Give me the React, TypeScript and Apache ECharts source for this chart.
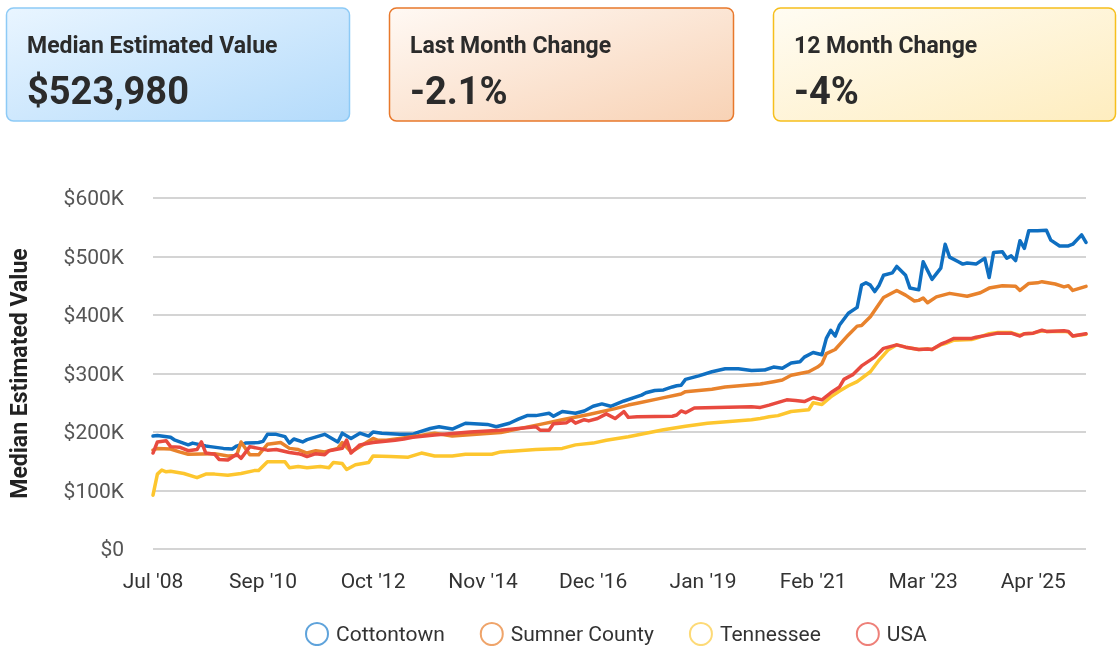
import React, { useEffect, useRef } from 'react';
import * as echarts from 'echarts';

const xTickLabels = ["Jul '08", "Sep '10", "Oct '12", "Nov '14", "Dec '16", "Jan '19", "Feb '21", "Mar '23", "Apr '25"];
const pointsPerTick = 25;
const lastIndex = 212;
const yTicks = [0, 100000, 200000, 300000, 400000, 500000, 600000];

const seriesNames = ['Cottontown', 'Sumner County', 'Tennessee', 'USA'];
const seriesColors = ['#0F6FC1', '#E8822C', '#FDC62E', '#E84A3F'];
const legendRingColors = ['#5FA3DB', '#EFA46A', '#FDDA77', '#EE8079'];

// [month index, value in $K]
const cottontown = [
  [0, 193], [1, 194], [4, 191], [5, 186], [8, 178], [9, 181], [12, 176], [13, 175], [16, 172], [18, 171],
  [19, 176], [21, 181], [24, 182], [25, 184], [26, 196], [28, 196], [30, 192], [31, 181], [32, 188], [34, 183],
  [35, 187], [39, 196], [42, 183], [43, 198], [45, 189], [47, 198], [49, 193], [50, 200], [52, 198], [56, 196],
  [59, 196], [60, 199], [63, 206], [65, 209], [68, 205], [71, 215], [76, 213], [78, 209], [81, 215], [83, 222],
  [85, 228], [87, 228], [90, 232], [91, 227], [92, 231], [93, 235], [96, 232], [98, 236], [100, 244], [102, 248],
  [104, 244], [107, 253], [111, 263], [112, 267], [114, 271], [116, 272], [118, 277], [119, 279], [120, 280], [121, 290],
  [124, 296], [127, 303], [130, 308], [133, 308], [136, 305], [139, 306], [141, 311], [143, 309], [145, 318], [147, 320],
  [148, 328], [150, 336], [152, 332], [153, 360], [154, 374], [155, 364], [156, 383], [158, 403], [160, 413], [161, 451],
  [162, 455], [163, 451], [164, 440], [165, 451], [166, 468], [168, 472], [169, 483], [171, 468], [172, 446], [174, 443],
  [175, 491], [177, 461], [179, 480], [180, 521], [181, 499], [183, 491], [184, 487], [185, 489], [187, 487], [189, 497],
  [190, 464], [191, 507], [193, 508], [194, 497], [195, 501], [196, 493], [197, 527], [198, 514], [199, 544], [201, 544],
  [203, 545], [204, 528], [206, 518], [208, 518], [209, 521], [211, 537], [212, 524],
];

const sumnerCounty = [
  [0, 169], [1, 172], [4, 171], [6, 166], [8, 162], [14, 163], [17, 159], [19, 160], [20, 183], [22, 161],
  [24, 161], [26, 179], [29, 182], [31, 172], [33, 170], [35, 164], [37, 168], [39, 166], [42, 172], [43, 182],
  [45, 166], [47, 175], [50, 189], [51, 186], [53, 186], [56, 189], [60, 193], [64, 198], [68, 193], [79, 199],
  [88, 213], [93, 221], [99, 230], [105, 240], [108, 246], [110, 249], [115, 257], [120, 265], [121, 269], [127, 273],
  [130, 277], [138, 282], [141, 286], [143, 289], [145, 297], [149, 303], [151, 311], [152, 317], [153, 334], [155, 341],
  [158, 366], [160, 381], [161, 382], [163, 397], [166, 430], [169, 442], [171, 434], [173, 424], [174, 425], [175, 429],
  [176, 421], [178, 431], [181, 437], [185, 432], [188, 438], [190, 446], [193, 450], [196, 449], [197, 442], [199, 454],
  [201, 455], [202, 457], [205, 453], [207, 448], [208, 450], [209, 442], [212, 449],
];

const tennessee = [
  [0, 92], [1, 128], [2, 135], [3, 132], [4, 133], [7, 129], [10, 122], [12, 128], [14, 128], [17, 126],
  [20, 129], [23, 134], [24, 134], [26, 149], [30, 149], [31, 139], [33, 141], [35, 139], [38, 141], [40, 139],
  [41, 148], [43, 146], [44, 136], [46, 144], [49, 148], [50, 159], [54, 158], [58, 157], [61, 164], [64, 159],
  [68, 159], [71, 162], [77, 162], [79, 166], [87, 170], [93, 172], [96, 178], [100, 181], [103, 186], [108, 192],
  [112, 198], [116, 204], [121, 210], [126, 215], [131, 218], [136, 221], [138, 223], [140, 226], [142, 228], [145, 235],
  [149, 238], [150, 250], [152, 247], [154, 260], [156, 270], [158, 279], [160, 286], [163, 303], [165, 323], [167, 340],
  [169, 349], [171, 345], [174, 341], [176, 342], [177, 341], [179, 349], [180, 351], [182, 357], [186, 358], [187, 360],
  [190, 368], [192, 370], [195, 370], [197, 365], [198, 368], [200, 369], [202, 373], [203, 372], [207, 372], [208, 371],
  [209, 364], [212, 367],
];

const usa = [
  [0, 164], [1, 183], [3, 185], [4, 175], [6, 174], [8, 168], [10, 170], [11, 183], [12, 164], [14, 162],
  [15, 153], [17, 152], [19, 162], [20, 155], [22, 175], [24, 172], [26, 169], [28, 170], [31, 165], [33, 163],
  [34, 161], [35, 158], [37, 163], [39, 161], [40, 168], [43, 172], [44, 186], [45, 164], [47, 178], [50, 182],
  [55, 186], [57, 188], [59, 191], [64, 195], [72, 200], [79, 203], [87, 209], [88, 203], [90, 203], [91, 214],
  [94, 216], [95, 221], [96, 215], [98, 221], [99, 219], [101, 223], [103, 231], [105, 223], [107, 235], [108, 225],
  [110, 226], [118, 227], [119, 229], [120, 236], [121, 233], [123, 241], [128, 242], [136, 243], [138, 242], [140, 246],
  [144, 255], [146, 254], [148, 252], [150, 259], [152, 255], [154, 267], [156, 277], [157, 290], [159, 298], [161, 313],
  [164, 328], [166, 343], [169, 349], [171, 345], [174, 341], [176, 342], [177, 341], [179, 350], [180, 353], [182, 360],
  [186, 360], [187, 362], [190, 366], [192, 369], [195, 369], [197, 364], [198, 368], [200, 369], [202, 374], [203, 372],
  [207, 373], [208, 372], [209, 364], [212, 368],
];

const seriesData = [cottontown, sumnerCounty, tennessee, usa];

const cardTitles = ['Median Estimated Value', 'Last Month Change', '12 Month Change'];
const cardValues = ['$523,980', '-2.1%', '-4%'];
const cardStyles = [
  { x: 6.5, w: 343, border: '#8DCAF6', c0: '#E9F5FF', c1: '#B4DBFB' },
  { x: 389.5, w: 344, border: '#E8782B', c0: '#FFF9F4', c1: '#F8D2B5' },
  { x: 773.5, w: 342, border: '#F6BF1C', c0: '#FFFCF3', c1: '#FEEDBF' },
];

const FONT = 'Roboto, "Noto Sans", sans-serif';

export default function App() {
  const ref = useRef<HTMLDivElement>(null);
  useEffect(() => {
    const chart = echarts.init(ref.current as HTMLDivElement, null, { renderer: 'svg' });

    const graphics: any[] = cardStyles.map((c, i) => ({
      type: 'group',
      children: [
        {
          type: 'rect',
          shape: { x: c.x, y: 8, width: c.w, height: 113, r: 7 },
          style: {
            fill: {
              type: 'linear', x: 0, y: 0, x2: 1, y2: 1,
              colorStops: [{ offset: 0, color: c.c0 }, { offset: 1, color: c.c1 }],
            },
            stroke: c.border,
            lineWidth: 1.5,
          },
        },
        {
          type: 'text',
          x: c.x + 20.5,
          y: 45,
          style: {
            text: cardTitles[i],
            font: `bold 23px ${FONT}`,
            fill: '#2b2b2b',
            textAlign: 'left',
            textVerticalAlign: 'middle',
          },
        },
        {
          type: 'text',
          x: c.x + 20.5,
          y: 91,
          style: {
            text: cardValues[i],
            font: `bold 38px ${FONT}`,
            fill: '#2b2b2b',
            textAlign: 'left',
            textVerticalAlign: 'middle',
          },
        },
      ],
    }));

    const option: any = {
      animation: false,
      textStyle: { fontFamily: FONT },
      graphic: graphics,
      grid: { left: 151, right: 31, top: 198, bottom: 97, containLabel: false },
      legend: {
        left: 305,
        top: 622,
        padding: 0,
        icon: 'circle',
        itemWidth: 22,
        itemHeight: 22,
        itemGap: 35,
        textStyle: { fontSize: 21, color: '#333', fontFamily: FONT, padding: [0, 0, 0, 3] },
        data: seriesNames.map((n, i) => ({
          name: n,
          itemStyle: { color: 'rgba(255,255,255,0)', borderColor: legendRingColors[i], borderWidth: 2 },
        })),
      },
      xAxis: {
        type: 'value',
        min: 0,
        max: lastIndex,
        interval: pointsPerTick,
        axisLine: { show: false },
        axisTick: { show: false },
        splitLine: { show: false },
        axisLabel: {
          fontSize: 21,
          color: '#333',
          margin: 21,
          showMaxLabel: false,
          formatter: (v: number) => (v % pointsPerTick === 0 ? xTickLabels[v / pointsPerTick] || '' : ''),
        },
      },
      yAxis: {
        type: 'value',
        min: yTicks[0],
        max: yTicks[yTicks.length - 1],
        interval: yTicks[1] - yTicks[0],
        name: 'Median Estimated Value',
        nameLocation: 'middle',
        nameGap: 122,
        nameTextStyle: { fontSize: 23, fontWeight: 'bold', color: '#222', fontFamily: FONT },
        axisLine: { show: false },
        axisTick: { show: false },
        splitLine: { lineStyle: { color: '#c6c6c6', width: 1.5 } },
        axisLabel: {
          fontSize: 21,
          color: '#555',
          margin: 29,
          formatter: (v: number) => (v === 0 ? '$0' : '$' + v / 1000 + 'K'),
        },
      },
      series: seriesNames.map((n, i) => ({
        name: n,
        type: 'line',
        showSymbol: false,
        symbol: 'none',
        color: seriesColors[i],
        lineStyle: { width: 3.5, color: seriesColors[i], join: 'round', cap: 'round' },
        data: seriesData[i].map(([x, v]) => [x, v * 1000]),
      })),
    };

    chart.setOption(option);
    return () => chart.dispose();
  }, []);

  return <div ref={ref} style={{ position: 'fixed', left: 0, top: 0, width: 1117, height: 646 }} />;
}
